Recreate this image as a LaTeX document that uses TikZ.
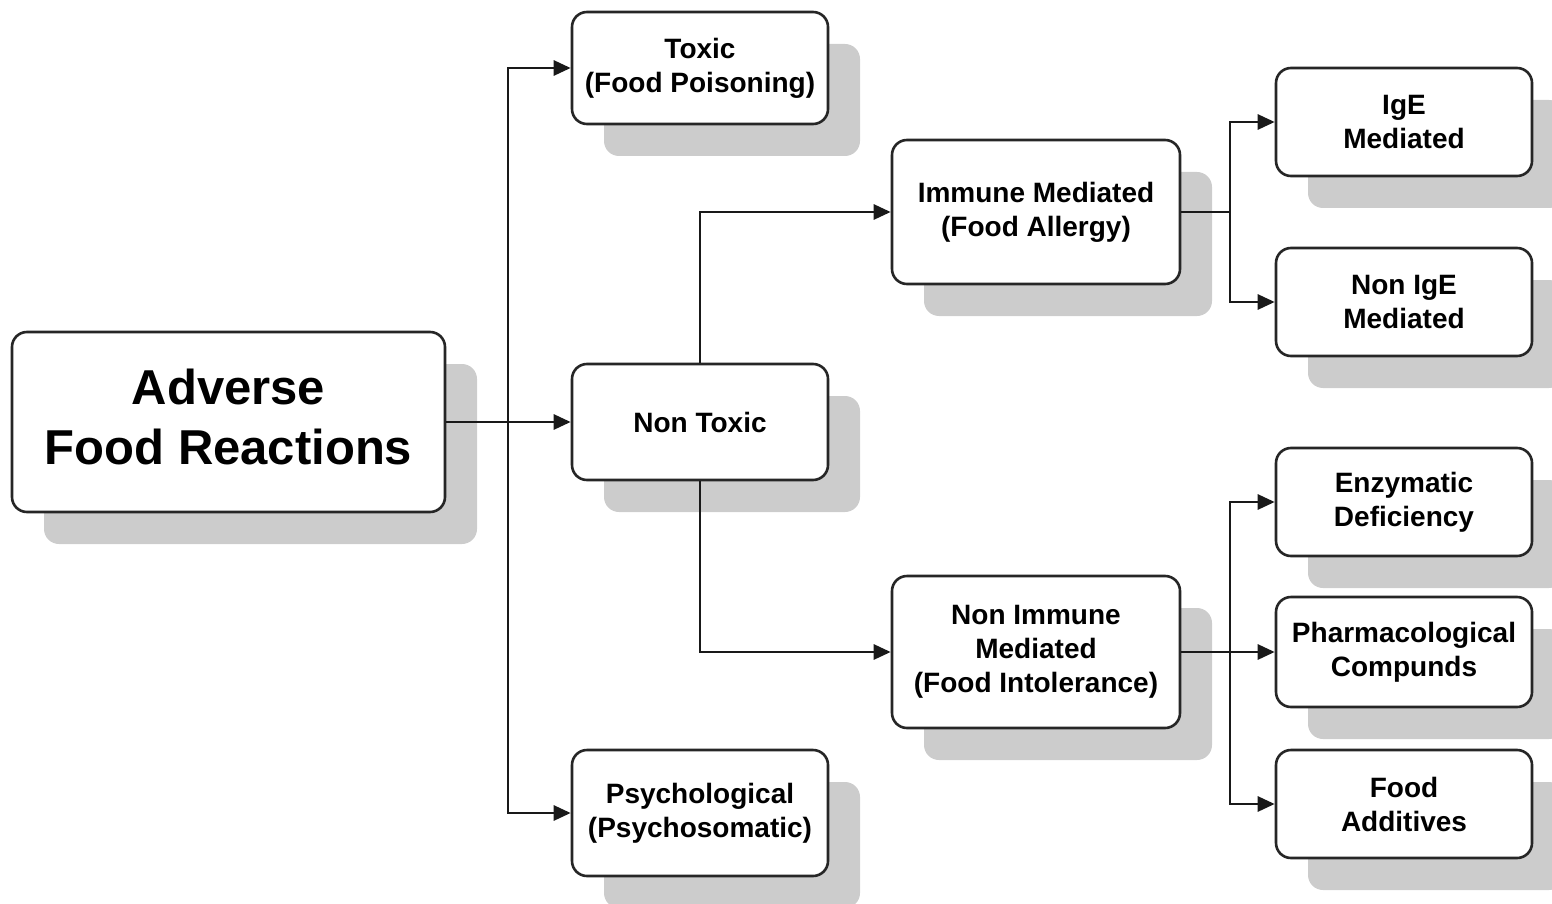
\documentclass[tikz,border=0pt]{standalone}
\usepackage{fontspec}
\setmainfont{Liberation Sans}
\usetikzlibrary{arrows.meta,shadows}
\begin{document}
\begin{tikzpicture}[x=1pt,y=-1pt,
  box/.style={draw=black!85, line width=2.6pt, rounded corners=15pt, fill=white,
    align=center, inner sep=0pt, minimum width=256pt,
    font=\fontsize{28}{34}\selectfont\bfseries,
    drop shadow={shadow xshift=32pt, shadow yshift=-32pt, fill=black!20, opacity=1}},
  conn/.style={draw=black!90, line width=2.8pt},
  arr/.style={conn, -{Triangle[length=17pt,width=15pt]}}]
\useasboundingbox (0,0) rectangle (1552,904);
\node[box, minimum width=433pt, minimum height=180pt, font=\fontsize{49}{60}\selectfont\bfseries] (adv) at (228.5,422) {\raisebox{4pt}{\begin{tabular}{@{}c@{}}Adverse\\Food Reactions\end{tabular}}};
\node[box, minimum height=112pt] (toxic) at (700,68) {Toxic\\(Food Poisoning)};
\node[box, minimum height=116pt] (nontox) at (700,422) {Non Toxic};
\node[box, minimum height=126pt] (psych) at (700,813) {Psychological\\(Psychosomatic)};
\node[box, minimum width=288pt, minimum height=144pt] (imm) at (1036,212) {Immune Mediated\\(Food Allergy)};
\node[box, minimum width=288pt, minimum height=152pt] (nonimm) at (1036,652) {Non Immune\\Mediated\\(Food Intolerance)};
\node[box, minimum height=108pt] (ige) at (1404,122) {IgE\\Mediated};
\node[box, minimum height=108pt] (nonige) at (1404,302) {Non IgE\\Mediated};
\node[box, minimum height=108pt] (enz) at (1404,502) {Enzymatic\\Deficiency};
\node[box, minimum height=110pt] (pharm) at (1404,652) {Pharmacological\\Compunds};
\node[box, minimum height=108pt] (add) at (1404,804) {Food\\Additives};
\coordinate (j1) at (508,422);
\coordinate (j2) at (1230,212);
\coordinate (j3) at (1230,652);
\draw[arr] (adv.east) -- (nontox.west);
\draw[arr] (j1) |- (toxic.west);
\draw[arr] (j1) |- (psych.west);
\draw[arr] (nontox.north) |- (imm.west);
\draw[arr] (nontox.south) |- (nonimm.west);
\draw[conn] (imm.east) -- (j2);
\draw[arr] (j2) |- (ige.west);
\draw[arr] (j2) |- (nonige.west);
\draw[arr] (nonimm.east) -- (pharm.west);
\draw[arr] (j3) |- (enz.west);
\draw[arr] (j3) |- (add.west);
\end{tikzpicture}
\end{document}
